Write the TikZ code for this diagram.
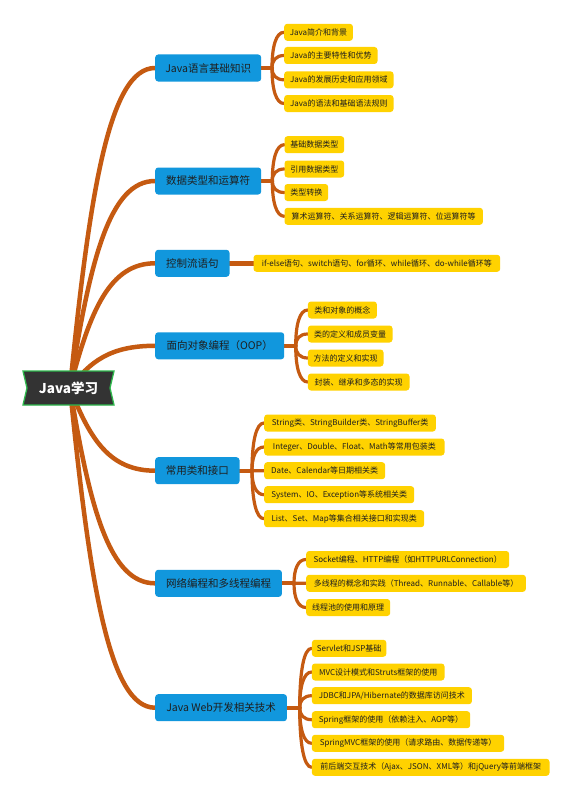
\documentclass[tikz,border=0pt]{standalone}
\usepackage{fontspec}
\setmainfont{Noto Sans CJK SC}
\usetikzlibrary{calc}
\definecolor{brch}{RGB}{197,90,17}
\definecolor{blu}{RGB}{17,151,221}
\definecolor{yel}{RGB}{255,210,0}
\definecolor{rootfill}{RGB}{51,51,51}
\definecolor{rootline}{RGB}{46,184,76}
\definecolor{ink}{RGB}{30,30,30}
\pgfdeclarelayer{bgw}
\pgfdeclarelayer{bg}
\pgfsetlayers{bgw,bg,main}
\begin{document}
\begin{tikzpicture}[x=1pt,y=-1pt,
  topic/.style={anchor=west, fill=blu, rounded corners=3pt, minimum height=27pt, inner sep=0pt, text=ink, font=\fontsize{10.5}{12}\selectfont},
  leaf/.style={anchor=west, fill=yel, rounded corners=3pt, minimum height=17pt, inner xsep=5pt, inner ysep=0pt, text=ink, font=\fontsize{8}{9}\selectfont},
  branch/.style={draw=brch, line width=4.5pt, line cap=round},
  twig/.style={draw=brch, line width=3.2pt, line cap=round},
  bcurve/.style={to path={.. controls ($(\tikztostart)!0.625!(\tikztostart|-\tikztotarget)+(20,0)$) and ($(\tikztostart|-\tikztotarget)!0.47!(\tikztotarget)$) .. (\tikztotarget)}},
  tcurve/.style={to path={.. controls ($(\tikztostart)!0.6!(\tikztostart|-\tikztotarget)$) and ($(\tikztostart|-\tikztotarget)+(4,0)$) .. (\tikztotarget)}},
]
\begin{pgfonlayer}{bgw}
\fill[white] (0,0) rectangle (574,800);
\end{pgfonlayer}
\useasboundingbox (0,0) rectangle (574,800);

% root
\fill[rootfill, draw=rootline, line width=1.3pt] (23,371) -- (114,371) -- (110,388) -- (114,405) -- (23,405) -- (27,388) -- cycle;
\node[text=white, font=\bfseries\fontsize{13.5}{15}\selectfont] (root) at (68.5,388) {Java学习};
\coordinate (rc) at (70,388);

% topics
\node[topic, minimum width=106pt]   (n1) at (155,68)    {Java语言基础知识};
\node[topic, minimum width=106pt]   (n2) at (155,181)   {数据类型和运算符};
\node[topic, minimum width=74.3pt]  (n3) at (155,263.3) {控制流语句};
\node[topic, minimum width=129pt]   (n4) at (155,345.8) {面向对象编程（OOP）};
\node[topic, minimum width=84.3pt]  (n5) at (155,470.7) {常用类和接口};
\node[topic, minimum width=126.7pt] (n6) at (155,583.3) {网络编程和多线程编程};
\node[topic, minimum width=131.7pt] (n7) at (155,707.7) {Java Web开发相关技术};

% leaves group 1
\node[leaf, minimum width=68.7pt]  (l11) at (284,32.3)  {Java简介和背景};
\node[leaf, minimum width=93.3pt]  (l12) at (284,55.5)  {Java的主要特性和优势};
\node[leaf, minimum width=109.3pt] (l13) at (284,79.8)  {Java的发展历史和应用领域};
\node[leaf, minimum width=109.3pt] (l14) at (284,103.5) {Java的语法和基础语法规则};
% group 2
\node[leaf, minimum width=59.7pt]  (l21) at (284.3,144.7) {基础数据类型};
\node[leaf, minimum width=59.7pt]  (l22) at (284.3,169)   {引用数据类型};
\node[leaf, minimum width=43.7pt]  (l23) at (284.3,192.5) {类型转换};
\node[leaf, minimum width=198.4pt] (l24) at (284.3,216.3) {算术运算符、关系运算符、逻辑运算符、位运算符等};
% group 3
\node[leaf, minimum width=246.7pt] (l31) at (253.3,263.3) {if-else语句、switch语句、for循环、while循环、do-while循环等};
% group 4
\node[leaf, minimum width=69pt]    (l41) at (307.7,310) {类和对象的概念};
\node[leaf, minimum width=84.6pt]  (l42) at (307.7,334) {类的定义和成员变量};
\node[leaf, minimum width=75.6pt]  (l43) at (307.7,358) {方法的定义和实现};
\node[leaf, minimum width=101.6pt] (l44) at (307.7,382) {封装、继承和多态的实现};
% group 5
\node[leaf, minimum width=171.7pt] (l51) at (264,423)   {String类、StringBuilder类、StringBuffer类};
\node[leaf, minimum width=180.3pt] (l52) at (264,447)   {Integer、Double、Float、Math等常用包装类};
\node[leaf, minimum width=121pt]   (l53) at (264,470.7) {Date、Calendar等日期相关类};
\node[leaf, minimum width=150pt]   (l54) at (264,494.7) {System、IO、Exception等系统相关类};
\node[leaf, minimum width=160pt]   (l55) at (264,518.7) {List、Set、Map等集合相关接口和实现类};
% group 6
\node[leaf, minimum width=203pt]   (l61) at (306,559.5) {Socket编程、HTTP编程（如HTTPURLConnection）};
\node[leaf, minimum width=219.7pt] (l62) at (306,583.3) {多线程的概念和实践（Thread、Runnable、Callable等）};
\node[leaf, minimum width=84pt]    (l63) at (306,607.5) {线程池的使用和原理};
% group 7
\node[leaf, minimum width=74.3pt]  (l71) at (311.7,648.3) {Servlet和JSP基础};
\node[leaf, minimum width=132.6pt] (l72) at (311.7,672)   {MVC设计模式和Struts框架的使用};
\node[leaf, minimum width=160pt]   (l73) at (311.7,695.7) {JDBC和JPA/Hibernate的数据库访问技术};
\node[leaf, minimum width=158.3pt] (l74) at (311.7,719.7) {Spring框架的使用（依赖注入、AOP等）};
\node[leaf, minimum width=192.3pt] (l75) at (311.7,743.3) {SpringMVC框架的使用（请求路由、数据传递等）};
\node[leaf, minimum width=237.6pt] (l76) at (311.7,767.3) {前后端交互技术（Ajax、JSON、XML等）和jQuery等前端框架};

% hubs
\coordinate (h1) at (272,68);
\coordinate (h2) at (272.3,181);
\coordinate (h4) at (295.7,345.8);
\coordinate (h5) at (252,470.7);
\coordinate (h6) at (294,583.3);
\coordinate (h7) at (299.7,707.7);

\begin{pgfonlayer}{bg}
% main branches
\foreach \n in {n1,n2,n3,n4,n5,n6,n7}
  \draw[branch] (rc) to[bcurve] (\n.west);
% stubs
\foreach \n/\h in {n1/h1,n2/h2,n4/h4,n5/h5,n6/h6,n7/h7}
  \draw[branch, line width=4pt] (\n.east) -- (\h);
\draw[branch] (n3.east) -- (l31.west);
% fans
\foreach \l in {l11,l12,l13,l14} \draw[twig] (h1) to[tcurve] (\l.west);
\foreach \l in {l21,l22,l23,l24} \draw[twig] (h2) to[tcurve] (\l.west);
\foreach \l in {l41,l42,l43,l44} \draw[twig] (h4) to[tcurve] (\l.west);
\foreach \l in {l51,l52,l53,l54,l55} \draw[twig] (h5) to[tcurve] (\l.west);
\foreach \l in {l61,l62,l63} \draw[twig] (h6) to[tcurve] (\l.west);
\foreach \l in {l71,l72,l73,l74,l75,l76} \draw[twig] (h7) to[tcurve] (\l.west);
\end{pgfonlayer}
\end{tikzpicture}
\end{document}
